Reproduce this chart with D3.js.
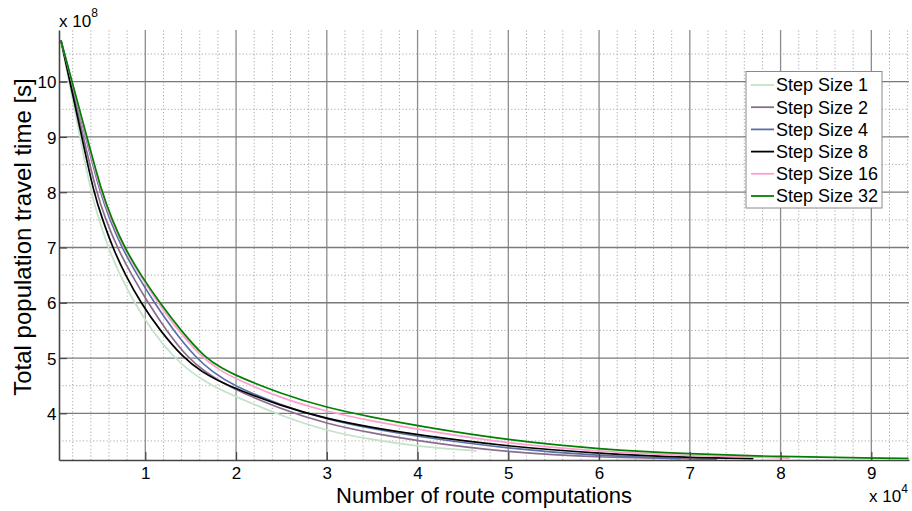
<!DOCTYPE html>
<html>
<head>
<meta charset="utf-8">
<script src="https://cdn.jsdelivr.net/npm/d3@7"></script>
<style>
  html, body { margin: 0; padding: 0; background: #fff; }
  svg { display: block; font-family: "Liberation Sans", Arial, sans-serif; }
</style>
</head>
<body>
<svg id="chart" width="912" height="511"></svg>
<script>
// Route computations (x 10^4) vs total population travel time (x 10^8 s)
const step1  = [[0.07,10.75],[0.16,10],[0.28,9],[0.40,8],[0.49,7.5],[0.59,7],[0.72,6.5],[0.88,6],[1.07,5.5],[1.32,5],[1.50,4.75],[1.73,4.5],[2.0,4.30],[2.5,3.95],[3.0,3.68],[3.5,3.52],[4.0,3.40],[4.65,3.32]];
const step2  = [[0.07,10.75],[0.176,10],[0.317,9],[0.46,8],[0.565,7.5],[0.69,7],[0.85,6.5],[1.03,6],[1.23,5.5],[1.47,5],[1.66,4.75],[1.90,4.49],[2.5,4.07],[3.0,3.81],[3.5,3.64],[4.0,3.50],[5.0,3.29],[6.0,3.20],[7.3,3.165]];
const step4  = [[0.07,10.75],[0.187,10],[0.343,9],[0.50,8],[0.61,7.5],[0.74,7],[0.91,6.5],[1.10,6],[1.31,5.5],[1.56,5],[1.74,4.75],[1.97,4.5],[2.5,4.14],[3.0,3.89],[3.5,3.72],[4.0,3.58],[5.0,3.36],[6.0,3.23],[6.9,3.18]];
const step8  = [[0.07,10.75],[0.17,10],[0.30,9],[0.43,8],[0.53,7.5],[0.64,7],[0.78,6.5],[0.95,6],[1.16,5.5],[1.42,5],[1.62,4.75],[1.90,4.5],[2.5,4.13],[3.0,3.90],[3.5,3.74],[4.0,3.61],[5.0,3.40],[6.0,3.27],[7.0,3.20],[7.7,3.18]];
const step16 = [[0.07,10.75],[0.19,10],[0.35,9],[0.51,8],[0.625,7.5],[0.76,7],[0.94,6.5],[1.14,6],[1.36,5.5],[1.63,5],[1.82,4.78],[2.0,4.62],[2.5,4.27],[3.0,4.03],[3.5,3.86],[4.0,3.71],[5.0,3.45],[6.0,3.31],[7.0,3.23],[8.1,3.19]];
const step32 = [[0.07,10.75],[0.193,10],[0.357,9],[0.52,8],[0.635,7.5],[0.77,7],[0.95,6.5],[1.16,6],[1.39,5.5],[1.66,5],[1.86,4.80],[2.0,4.68],[2.5,4.35],[3.0,4.10],[3.5,3.93],[4.0,3.77],[5.0,3.51],[6.0,3.35],[7.0,3.265],[8.0,3.215],[9.0,3.19],[9.41,3.185]];

const seriesNames  = ["Step Size 1","Step Size 2","Step Size 4","Step Size 8","Step Size 16","Step Size 32"];
const seriesData   = [step1, step2, step4, step8, step16, step32];
const seriesColors = ["#c4e2c8","#8a6d8c","#5a70a6","#000000","#ff9fd0","#008000"];

const xTicks = [1,2,3,4,5,6,7,8,9];
const yTicks = [4,5,6,7,8,9,10];

const svg = d3.select("#chart");
const W = 912, H = 511;
const m = {left: 59, top: 30, right: 3, bottom: 51};

const x = d3.scaleLinear().domain([0.049, 9.415]).range([m.left, W - m.right]);
const y = d3.scaleLinear().domain([3.155, 10.935]).range([H - m.bottom, m.top]);

const g = svg.append("g");

// minor dotted grid
const xMinor = d3.range(0.2, 9.41, 0.2).filter(v => Math.abs(v - Math.round(v)) > 1e-6);
const yMinor = d3.range(3.5, 10.94, 1);
g.append("g").selectAll("line").data(xMinor).join("line")
  .attr("x1", d => x(d)).attr("x2", d => x(d))
  .attr("y1", y.range()[0]).attr("y2", y.range()[1])
  .attr("stroke", "#a8a8a8").attr("stroke-width", 1).attr("stroke-dasharray", "1.2 2.2");
g.append("g").selectAll("line").data(yMinor).join("line")
  .attr("x1", x.range()[0]).attr("x2", x.range()[1])
  .attr("y1", d => y(d)).attr("y2", d => y(d))
  .attr("stroke", "#a8a8a8").attr("stroke-width", 1).attr("stroke-dasharray", "1.2 2.2");

// major solid grid
g.append("g").selectAll("line").data(xTicks).join("line")
  .attr("x1", d => x(d)).attr("x2", d => x(d))
  .attr("y1", y.range()[0]).attr("y2", y.range()[1])
  .attr("stroke", "#8c8c8c").attr("stroke-width", 1.3);
g.append("g").selectAll("line").data(yTicks).join("line")
  .attr("x1", x.range()[0]).attr("x2", x.range()[1])
  .attr("y1", d => y(d)).attr("y2", d => y(d))
  .attr("stroke", "#7a7a7a").attr("stroke-width", 1.3);

// curves
const line = d3.line().x(d => x(d[0])).y(d => y(d[1])).curve(d3.curveBasis);
g.append("g").selectAll("path").data(seriesData).join("path")
  .attr("d", line)
  .attr("fill", "none")
  .attr("stroke", (d, i) => seriesColors[i])
  .attr("stroke-width", 1.7)
  .attr("stroke-linejoin", "round");

// axes (inward ticks)
const xAxis = d3.axisBottom(x).tickValues(xTicks).tickSizeInner(-8).tickSizeOuter(0).tickPadding(7).tickFormat(d3.format("d"));
const yAxis = d3.axisLeft(y).tickValues(yTicks).tickSizeInner(-8).tickSizeOuter(0).tickPadding(2.5).tickFormat(d3.format("d"));

const gx = svg.append("g").attr("transform", `translate(0,${H - m.bottom})`).call(xAxis);
const gy = svg.append("g").attr("transform", `translate(${m.left},0)`).call(yAxis);
[gx, gy].forEach(a => {
  a.select(".domain").attr("stroke", "#444").attr("stroke-width", 1.6);
  a.selectAll(".tick line").attr("stroke", "#444").attr("stroke-width", 1.2);
  a.selectAll(".tick text").attr("fill", "#000").attr("font-size", 17)
    .attr("font-family", "Liberation Sans, Arial, sans-serif");
});
gy.selectAll(".tick text").attr("dy", "0.36em");

// axis titles
svg.append("text")
  .attr("x", (m.left + W - m.right) / 2).attr("y", 503)
  .attr("text-anchor", "middle").attr("font-size", 22).attr("fill", "#000")
  .text("Number of route computations");
svg.append("text")
  .attr("transform", "translate(31,237) rotate(-90)")
  .attr("text-anchor", "middle").attr("font-size", 24).attr("fill", "#000")
  .text("Total population travel time [s]");

// exponent labels
const e8 = svg.append("text").attr("x", 59).attr("y", 26.5).attr("font-size", 17).attr("fill", "#000");
e8.append("tspan").text("x 10");
e8.append("tspan").attr("font-size", 12).attr("dy", -10).text("8");
const e4 = svg.append("text").attr("x", 869).attr("y", 501.5).attr("font-size", 17).attr("fill", "#000");
e4.append("tspan").text("x 10");
e4.append("tspan").attr("font-size", 12).attr("dy", -9).text("4");

// legend
const lg = svg.append("g").attr("transform", "translate(746,71.5)");
lg.append("rect").attr("width", 136).attr("height", 136.5)
  .attr("fill", "#fff").attr("stroke", "#8a8a8a").attr("stroke-width", 1);
const rows = lg.selectAll("g.row").data(seriesNames).join("g")
  .attr("class", "row")
  .attr("transform", (d, i) => `translate(0,${13.5 + i * 22.2})`);
rows.append("line").attr("x1", 5).attr("x2", 28)
  .attr("stroke", (d, i) => seriesColors[i]).attr("stroke-width", 1.8);
rows.append("text").attr("x", 30).attr("dy", "0.36em")
  .attr("font-size", 18).attr("fill", "#000").text(d => d);
</script>
</body>
</html>
